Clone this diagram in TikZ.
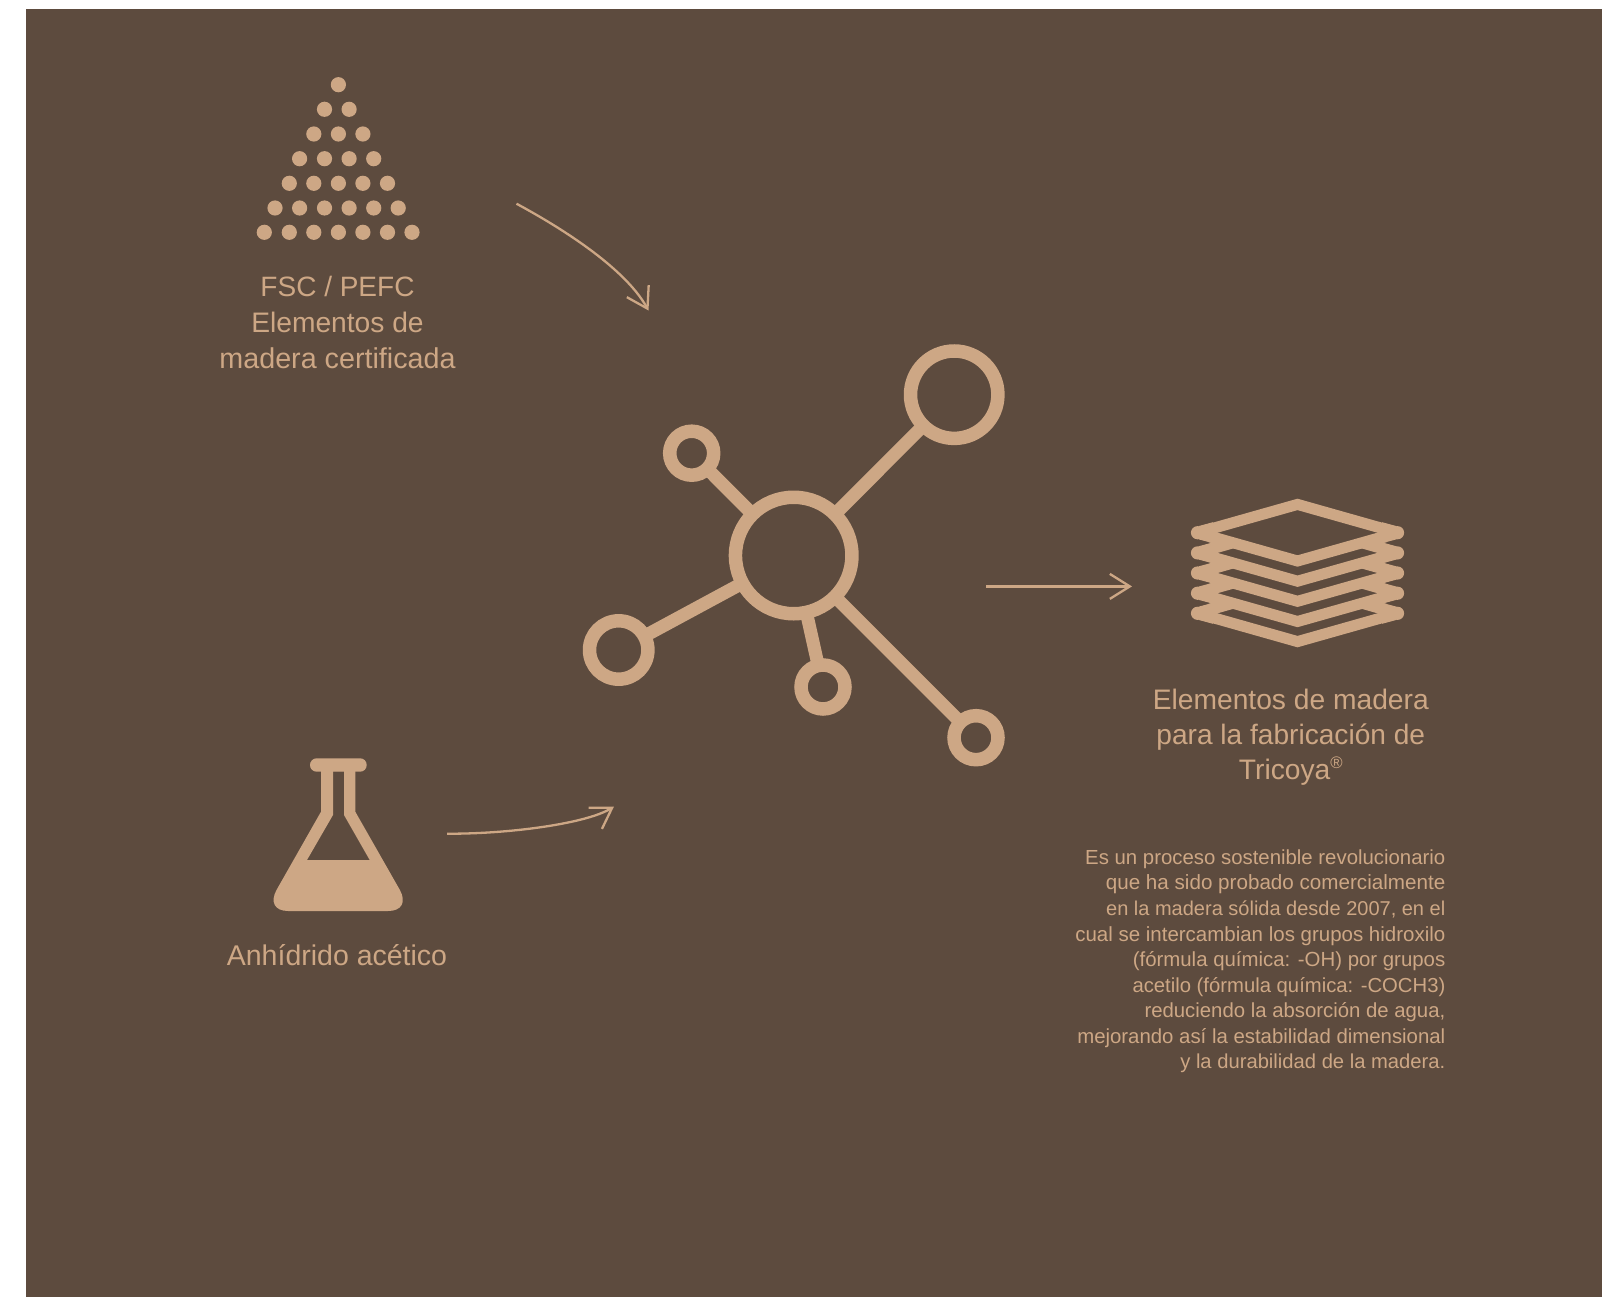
\documentclass[tikz,border=0pt]{standalone}
\usepackage{fontspec}
\setmainfont{Liberation Sans}
\usetikzlibrary{arrows.meta}
\definecolor{panelbrown}{HTML}{5D4B3E}
\definecolor{tan}{HTML}{CDA785}
\newcommand{\titlesize}[1]{\fontsize{#1}{35.4}\selectfont}
\newcommand{\bodysize}[1]{\fontsize{#1}{25.6}\selectfont}
\tikzset{
  atom/.style={draw=tan,circle,line width=13.5pt,inner sep=0pt,outer sep=0pt,minimum size=#1},
  bond/.style={draw=tan,line width=13pt},
  flow/.style={draw=tan,line width=2.3pt,-{Straight Barb[length=20pt,width=25pt]}},
  sheet/.style={draw=tan,line width=11pt,line cap=round,line join=miter},
  title/.style={text=tan,align=center,inner sep=0pt,anchor=base},
  body/.style={text=tan,align=right,inner sep=0pt,anchor=base east},
}
\begin{document}
\begin{tikzpicture}[x=1pt,y=-1pt]
\useasboundingbox (0,0) rectangle (1602,1297);
\fill[white] (0,0) rectangle (1602,1297);
\fill[panelbrown] (26,9) rectangle (1602,1297);

% dot triangle
\foreach \y/\xs in {84.7/{338.4}, 109.3/{324.5,349.1}, 134/{313.8,338.4,362.9},
  158.7/{299.6,324.5,349.1,373.7}, 183.3/{289.3,313.8,338.4,362.9,387.5},
  208/{275,299.6,324.5,349.1,373.7,398.2},
  232.3/{264.3,289.3,313.8,338.4,362.9,387.5,412}}{
  \foreach \x in \xs { \fill[tan] (\x,\y) circle[radius=7.6pt]; }
}

\node[title,font=\titlesize{28}] (fsc) at (337.5,296.7) {FSC / PEFC};
\node[title,font=\titlesize{28.2}] (fscb) at (337.5,332.2) {Elementos de};
\node[title,font=\titlesize{28.7}] (fscc) at (337.5,368) {madera certificada};

% flask
\fill[tan,rounded corners=6.6pt] (310,758.3) rectangle (366.7,771.7);
\fill[tan,even odd rule] (321,771) -- (321,811.7) -- (276.5,890)
  .. controls (270,902) and (274.5,911) .. (288.3,911) -- (388.1,911)
  .. controls (401.9,911) and (406.4,902) .. (399.9,890)
  -- (355.3,811.7) -- (355.3,771) -- cycle
  (333,771) -- (344,771) -- (344,815) -- (369.7,860) -- (307,860) -- (333,815) -- cycle;
\node[title,font=\titlesize{28.5}] (acid) at (337,965.5) {Anhídrido acético};

% arrows
\coordinate (a1s) at (516.5,203.7);
\coordinate (a1e) at (648.5,310.5);
\draw[flow] (a1s) .. controls (578,237) and (628.3,274) .. (a1e);
\coordinate (a2s) at (447,833.7);
\coordinate (a2e) at (614,806.5);
\draw[flow] (a2s) .. controls (510,834) and (587.3,823.4) .. (a2e);
\coordinate (a3s) at (986,586.4);
\coordinate (a3e) at (1132,586.4);
\draw[flow] (a3s) -- (a3e);

% molecule
\node[atom=116.5pt] (hub) at (793.7,555.5) {};
\node[atom=87.4pt] (big) at (954.2,394.7) {};
\node[atom=44pt] (tl) at (691.7,453.2) {};
\node[atom=58.4pt] (lf) at (618.7,650) {};
\node[atom=44pt] (bm) at (823,687) {};
\node[atom=44pt] (br) at (976,737.7) {};
\foreach \n in {big,tl,lf,bm,br}{ \draw[bond] (hub) -- (\n); }

% stack of sheets
\foreach \y in {532.7,552.9,573,593.2,613.3}{
  \fill[tan] (1197.5,\y) circle[radius=6.6pt];
  \fill[tan] (1397.5,\y) circle[radius=6.6pt];
  \fill[tan] (1198.5,\y-6.6) -- (1213,\y-10.5) -- (1213,\y+10.5) -- (1198.5,\y+6.6) -- cycle;
  \fill[tan] (1396.5,\y-6.6) -- (1382,\y-10.5) -- (1382,\y+10.5) -- (1396.5,\y+6.6) -- cycle;
}
\foreach \y in {552.9,573,593.2,613.3}{
  \draw[sheet] (1197.5,\y) -- (1297.5,\y+28.3) -- (1397.5,\y);
  \draw[sheet,line cap=butt] (1197.5,\y) -- (1233,\y-10.1);
  \draw[sheet,line cap=butt] (1397.5,\y) -- (1362,\y-10.1);
}
\foreach \y in {542.8,563,583.1,603.2}{
  \fill[tan] (1208.5,\y) -- (1217,\y-2.2) -- (1217,\y+2.2) -- cycle;
  \fill[tan] (1386.5,\y) -- (1378,\y-2.2) -- (1378,\y+2.2) -- cycle;
}
\draw[sheet] (1197.5,532.7) -- (1297.5,504.4) -- (1397.5,532.7);
\draw[sheet] (1197.5,532.7) -- (1297.5,561) -- (1397.5,532.7);

\node[title,font=\titlesize{28.2}] (ta) at (1290.8,709) {Elementos de madera};
\node[title,font=\titlesize{28.1}] (tb) at (1290.8,744) {para la fabricación de};
\node[title,font=\titlesize{28.2}] (tc) at (1290.8,779) {Tricoya{\fontsize{16.7}{16.7}\selectfont\raisebox{11pt}{®}}};

\node[body,font=\bodysize{20.37}] (l1) at (1445.5,864) {Es un proceso sostenible revolucionario};
\node[body,font=\bodysize{20.63}] (l2) at (1445.5,889.5) {que ha sido probado comercialmente};
\node[body,font=\bodysize{20}] (l3) at (1445.5,915.2) {en la madera sólida desde 2007, en el};
\node[body,font=\bodysize{20.48}] (l4) at (1445.5,941) {cual se intercambian los grupos hidroxilo};
\node[body,font=\bodysize{20.4}] (l5) at (1445.5,966.3) {(fórmula química: -OH) por grupos};
\node[body,font=\bodysize{20.27}] (l6) at (1445.5,992) {acetilo (fórmula química: -COCH3)};
\node[body,font=\bodysize{20.34}] (l7) at (1445.5,1017.5) {reduciendo la absorción de agua,};
\node[body,font=\bodysize{20.37}] (l8) at (1445.5,1043) {mejorando así la estabilidad dimensional};
\node[body,font=\bodysize{20.2}] (l9) at (1445.5,1068.5) {y la durabilidad de la madera.};
\end{tikzpicture}
\end{document}
